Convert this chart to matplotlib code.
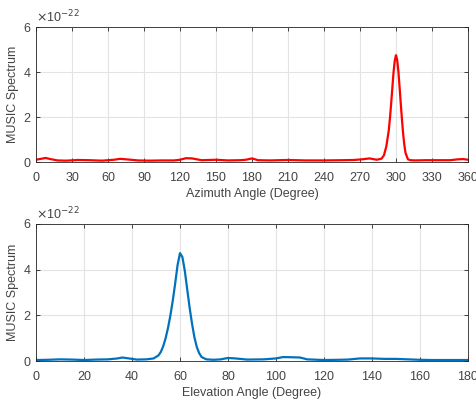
import matplotlib
matplotlib.use("Agg")
import matplotlib.pyplot as plt

az_deg = [0, 4, 8, 12, 18, 25, 35, 45, 55, 65, 70, 75, 85, 95, 105, 115, 120, 125, 130, 138,
          150, 160, 170, 175, 180, 185, 195, 210, 225, 240, 255, 265, 272, 278, 284, 288, 290,
          292, 294, 295, 296, 297, 298, 299, 300, 301, 302, 303, 304, 305, 306, 307, 308, 310,
          312, 316, 325, 335, 345, 352, 356, 360]
az_val = [0.10, 0.14, 0.18, 0.13, 0.07, 0.06, 0.09, 0.08, 0.06, 0.10, 0.14, 0.12, 0.07, 0.06,
          0.07, 0.07, 0.10, 0.17, 0.16, 0.08, 0.10, 0.07, 0.08, 0.10, 0.16, 0.08, 0.07, 0.09,
          0.07, 0.07, 0.08, 0.09, 0.12, 0.16, 0.10, 0.15, 0.30, 0.70, 1.40, 1.95, 2.60, 3.30,
          4.00, 4.50, 4.75, 4.55, 4.05, 3.35, 2.60, 1.90, 1.25, 0.75, 0.40, 0.12, 0.08, 0.07,
          0.08, 0.08, 0.08, 0.12, 0.13, 0.10]

el_deg = [0, 5, 10, 15, 20, 25, 30, 34, 36, 38, 42, 46, 49, 51, 52, 53, 54, 55, 56, 57, 58,
          59, 60, 61, 62, 63, 64, 65, 66, 67, 68, 69, 71, 74, 77, 80, 83, 88, 95, 100, 103,
          107, 110, 113, 120, 126, 130, 135, 140, 145, 150, 155, 160, 165, 170, 175, 180]
el_val = [0.05, 0.06, 0.08, 0.07, 0.05, 0.07, 0.08, 0.12, 0.16, 0.13, 0.07, 0.08, 0.12, 0.25,
          0.40, 0.65, 1.00, 1.45, 2.00, 2.65, 3.40, 4.20, 4.72, 4.55, 3.95, 3.15, 2.35, 1.65,
          1.05, 0.62, 0.35, 0.18, 0.08, 0.06, 0.08, 0.14, 0.12, 0.07, 0.08, 0.12, 0.18, 0.17,
          0.16, 0.08, 0.05, 0.06, 0.07, 0.12, 0.12, 0.10, 0.10, 0.08, 0.06, 0.05, 0.05, 0.05,
          0.05]

az_ticks = list(range(0, 361, 30))
el_ticks = list(range(0, 181, 20))
y_ticks = [0, 2, 4, 6]

plt.rcParams['font.family'] = ['Liberation Sans', 'DejaVu Sans']
txt = '#444444'

fig = plt.figure(figsize=(4.77, 4.04), dpi=100)
ax1 = fig.add_axes([0.0755, 0.599, 0.9055, 0.334])
ax2 = fig.add_axes([0.0755, 0.106, 0.9055, 0.340])

def style(ax, xt, xmax, xlabel):
    ax.set_xlim(0, xmax)
    ax.set_ylim(0, 6)
    ax.set_xticks(xt)
    ax.set_yticks(y_ticks)
    ax.grid(True, color='#e3e3e3', linewidth=0.8)
    ax.set_axisbelow(True)
    ax.tick_params(direction='in', top=True, right=True, length=3, width=0.6,
                   color='#262626', labelcolor=txt, labelsize=9)
    ax.tick_params(axis='x', pad=7)
    ax.tick_params(axis='y', pad=4)
    for s in ax.spines.values():
        s.set_color('#262626')
        s.set_linewidth(0.6)
    ax.set_xlabel(xlabel, fontsize=9, color=txt, labelpad=3)
    ax.set_ylabel('MUSIC Spectrum', fontsize=9, color=txt, labelpad=3)
    ax.text(0.0, 1.01, r'$\times$10$^{-22}$', transform=ax.transAxes, fontsize=9,
            color=txt, ha='left', va='bottom')

ax1.plot(az_deg, az_val, color='#ff0000', linewidth=1.6)
style(ax1, az_ticks, 360, 'Azimuth Angle (Degree)')
ax2.plot(el_deg, el_val, color='#0072bd', linewidth=1.6)
style(ax2, el_ticks, 180, 'Elevation Angle (Degree)')

fig.savefig('out.png', dpi=100)
